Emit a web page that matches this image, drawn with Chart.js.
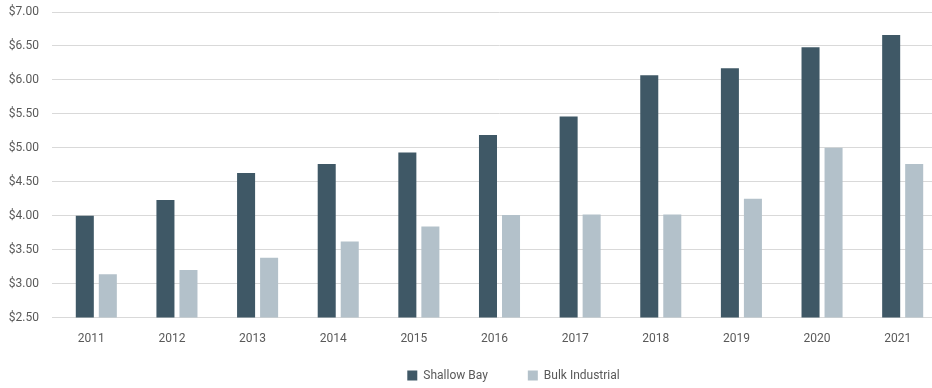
<!DOCTYPE html>
<html>
<head>
<meta charset="utf-8">
<script src="https://cdn.jsdelivr.net/npm/chart.js@4"></script>
<style>
html,body{margin:0;padding:0;overflow:hidden;background:#fff;}
#wrap{width:944px;height:388px;position:relative;}
</style>
</head>
<body>
<div id="wrap"><canvas id="c"></canvas></div>
<script>
const years = ['2011','2012','2013','2014','2015','2016','2017','2018','2019','2020','2021'];
const shallowBay = [4.00, 4.23, 4.63, 4.76, 4.93, 5.19, 5.46, 6.07, 6.17, 6.48, 6.66];
const bulkIndustrial = [3.14, 3.20, 3.38, 3.62, 3.84, 4.01, 4.02, 4.02, 4.25, 5.00, 4.76];
const yTicks = [2.5, 3.0, 3.5, 4.0, 4.5, 5.0, 5.5, 6.0, 6.5, 7.0];

const textColor = '#595959';
const gridColor = '#d9d9d9';
Chart.defaults.font.family = 'Roboto, "Liberation Sans", sans-serif';
Chart.defaults.font.size = 12;
Chart.defaults.color = textColor;

// nudge the legend (right and up) to sit where the reference has it
const legendShift = {
  id: 'legendShift',
  afterLayout(chart) {
    const lg = chart.legend;
    if (lg) {
      lg.left += 14; lg.right += 14;
      lg.top -= 30.5; lg.bottom -= 30.5;
    }
  }
};

new Chart(document.getElementById('c'), {
  type: 'bar',
  data: {
    labels: years,
    datasets: [
      {label: 'Shallow Bay', data: shallowBay, backgroundColor: '#3f5866', categoryPercentage: 0.571, barPercentage: 0.783},
      {label: 'Bulk Industrial', data: bulkIndustrial, backgroundColor: '#b3c1ca', categoryPercentage: 0.571, barPercentage: 0.783}
    ]
  },
  plugins: [legendShift],
  options: {
    responsive: true,
    maintainAspectRatio: false,
    animation: false,
    layout: {padding: {top: 12, right: 1, left: 0, bottom: -34}},
    plugins: {
      tooltip: {enabled: false},
      legend: {
        position: 'bottom',
        fullSize: false,
        labels: {boxWidth: 10, boxHeight: 10, padding: 40, color: textColor, font: {size: 12}}
      }
    },
    scales: {
      x: {
        grid: {display: false, drawTicks: false},
        border: {display: false},
        ticks: {padding: 14, labelOffset: -5, maxRotation: 0, autoSkip: false}
      },
      y: {
        min: 2.5,
        max: 7,
        afterFit: (s) => { s.width = 56; s.paddingTop = 0; s.paddingBottom = 0; },
        afterBuildTicks: (s) => { s.ticks = yTicks.map(v => ({value: v})); },
        grid: {color: gridColor, lineWidth: 1, drawTicks: true, tickLength: 4},
        border: {display: false},
        ticks: {padding: 13, callback: (v) => '$' + Number(v).toFixed(2)}
      }
    }
  }
});
</script>
</body>
</html>
